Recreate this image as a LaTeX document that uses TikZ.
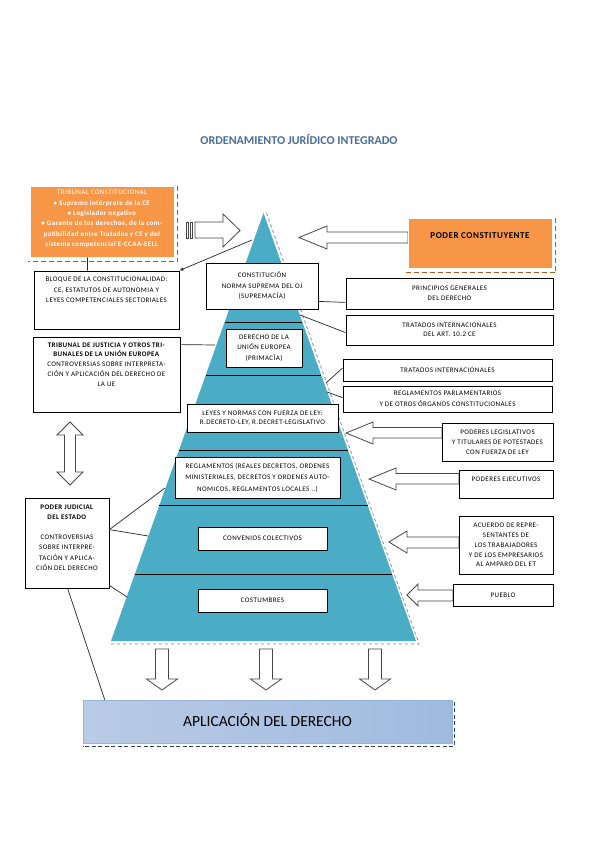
\documentclass[tikz,border=0pt]{standalone}
\usepackage{fontspec}
\setmainfont{Carlito}
\newfontfamily\boxfont[LetterSpace=6]{Carlito}
\usetikzlibrary{shadows,calc,arrows.meta}
\definecolor{pyr}{RGB}{75,172,198}
\definecolor{orng}{RGB}{247,150,70}
\definecolor{brn}{RGB}{178,90,30}
\definecolor{ttl}{RGB}{74,110,160}
\definecolor{arr}{RGB}{70,70,70}
\definecolor{dblue}{RGB}{40,60,110}
\definecolor{pdash}{RGB}{95,130,165}
\begin{document}
\begin{tikzpicture}[x=1pt,y=-1pt,
 box/.style={draw=black, line width=0.8pt, fill=white, inner sep=0pt, align=center,
   font=\boxfont\fontsize{7}{10.5}\selectfont,
   drop shadow={shadow xshift=1pt,shadow yshift=-1pt,opacity=0.35,fill=black}},
 txt/.style={inner sep=0pt, align=center, font=\boxfont\fontsize{7}{10.5}\selectfont},
 conn/.style={draw=black!85, line width=0.7pt},
 barrow/.style={draw=arr, fill=white, line width=0.8pt, line join=miter},
 pline/.style={draw=black, line width=0.9pt},
]
\useasboundingbox (0,0) rectangle (599,848);
\fill[white] (0,0) rectangle (599,848);

% title
\node[font=\bfseries\fontsize{12}{14}\selectfont, text=ttl] (title) at (299,140) {ORDENAMIENTO JURÍDICO INTEGRADO};

% pyramid
\coordinate (apex) at (263.5,213);
\coordinate (bl) at (111,641);
\coordinate (br) at (416,641);
\draw[white, line width=2pt, line join=round] (apex) -- (br) -- (bl) -- cycle;
\fill[pyr] (apex) -- (br) -- (bl) -- cycle;
\draw[pdash, dashed, line width=0.7pt] ($(apex)+(3,0)$) -- ($(br)+(3,3)$) -- ($(bl)+(0,3)$);
\foreach \t in {0.2547,0.3785,0.5537,0.6822,0.8435}
  \draw[pline] ($(apex)!\t!(bl)$) -- ($(apex)!\t!(br)$);

% block arrows
\draw[barrow] (186,222) rectangle (188,238);
\draw[barrow] (190,222) rectangle (192.5,238);
\draw[barrow] (195,222) -- (223,222) -- (223,214) -- (240,230.5) -- (223,247) -- (223,238) -- (195,238) -- cycle;
\draw[barrow] (299,237.5) -- (327,226) -- (327,232) -- (408,232) -- (408,243) -- (327,243) -- (327,249) -- cycle;
\draw[barrow] (346,433) -- (373,422) -- (373,427.5) -- (442,427.5) -- (442,438) -- (373,438) -- (373,444) -- cycle;
\draw[barrow] (369,479) -- (396,468) -- (396,473.5) -- (459,473.5) -- (459,484) -- (396,484) -- (396,490) -- cycle;
\draw[barrow] (389,542) -- (407,531) -- (407,537) -- (459,537) -- (459,548) -- (407,548) -- (407,553) -- cycle;
\draw[barrow] (407,595) -- (418,584) -- (418,590) -- (453,590) -- (453,601) -- (418,601) -- (418,606) -- cycle;
\foreach \cx in {162,266,375}
  \draw[barrow] (\cx-6.5,649) -- (\cx+6.5,649) -- (\cx+6.5,679) -- (\cx+15.5,679) -- (\cx,690) -- (\cx-15.5,679) -- (\cx-6.5,679) -- cycle;
\draw[barrow] (70,422) -- (83,435) -- (75.5,435) -- (75.5,472) -- (83,472) -- (70,485) -- (57,472) -- (64.5,472) -- (64.5,435) -- (57,435) -- cycle;

% pyramid boxes
\node[box, minimum width=112pt, minimum height=46pt] (const) at (262,286) {CONSTITUCIÓN\\NORMA SUPREMA DEL OJ\\(SUPREMACÍA)};
\node[box, minimum width=76pt, minimum height=38pt] (ue) at (264,348) {DERECHO DE LA\\UNIÓN EUROPEA\\(PRIMACÍA)};
\node[box, minimum width=151pt, minimum height=28pt, font=\boxfont\fontsize{7}{9.5}\selectfont] (leyes) at (262.5,418) {LEYES Y NORMAS CON FUERZA DE LEY:\\R.DECRETO-LEY, R.DECRET-LEGISLATIVO};
\node[box, minimum width=165pt, minimum height=41pt, font=\boxfont\fontsize{7}{11.5}\selectfont] (regl) at (257.5,477.5) {REGLAMENTOS (REALES DECRETOS, ORDENES\\MINISTERIALES, DECRETOS Y ORDENES AUTO-\\NOMICOS, REGLAMENTOS LOCALES ..)};
\node[box, minimum width=129pt, minimum height=23pt] (conv) at (262.5,538.5) {CONVENIOS COLECTIVOS};
\node[box, minimum width=129pt, minimum height=23pt] (cost) at (262.5,600.5) {COSTUMBRES};

% left boxes
\node[fill=orng, draw=white, line width=1pt, minimum width=144pt, minimum height=71pt, inner sep=0pt] (tc) at (102,221.5) {};
\draw[brn, dashed, dash pattern=on 5pt off 3pt, line width=1.5pt] ($(tc.north east)+(3,0)$) -- ($(tc.south east)+(3,4)$) -- ($(tc.south west)+(-2,4)$);
\node[txt, text=white, font=\boxfont\fontsize{7}{10.4}\selectfont] (tct) at (102,219) {TRIBUNAL CONSTITUCIONAL\\\textbf{• Supremo intérprete de la CE}\\\textbf{• Legislador negativo}\\\textbf{• Garante de los derechos, de la com-}\\\textbf{patibilidad entre Tratados y CE y del}\\\textbf{sistema competencial E-CCAA-EELL}};

\node[box, minimum width=145pt, minimum height=58pt] (bloque) at (106.5,300) {};
\node[txt] (bloquet) at (106.5,290) {BLOQUE DE LA CONSTITUCIONALIDAD:\\CE, ESTATUTOS DE AUTONOMIA Y\\LEYES COMPETENCIALES SECTORIALES};

\node[box, minimum width=147pt, minimum height=75pt] (tj) at (106.5,374.5) {};
\node[txt, font=\boxfont\fontsize{7}{9.8}\selectfont] (tjt) at (106.5,364.5) {\textbf{TRIBUNAL DE JUSTICIA Y OTROS TRI-}\\\textbf{BUNALES DE LA UNIÓN EUROPEA}\\CONTROVERSIAS SOBRE INTERPRETA-\\CIÓN Y APLICACIÓN DEL DERECHO DE\\LA UE};

\node[box, minimum width=84pt, minimum height=90pt] (pj) at (67,543) {};
\node[txt, font=\boxfont\fontsize{7}{10.2}\selectfont] (pjt) at (67,537.5) {\textbf{PODER JUDICIAL}\\\textbf{DEL ESTADO}\\[10.2pt]CONTROVERSIAS\\SOBRE INTERPRE-\\TACIÓN Y APLICA-\\CIÓN DEL DERECHO};

% right boxes
\node[fill=orng, draw=white, line width=1pt, minimum width=144pt, minimum height=50pt, inner sep=0pt] (pc) at (480,243) {};
\draw[brn, dashed, dash pattern=on 5pt off 3pt, line width=1.5pt] ($(pc.north east)+(3,0)$) -- ($(pc.south east)+(3,4)$) -- ($(pc.south west)+(-2,4)$);
\node[txt, font=\boxfont\bfseries\fontsize{9}{11}\selectfont] (pct) at (480,236) {PODER CONSTITUYENTE};

\node[box, minimum width=207pt, minimum height=31pt, font=\boxfont\fontsize{7}{9.5}\selectfont] (princ) at (449.5,293.5) {PRINCIPIOS GENERALES\\DEL DERECHO};
\node[box, minimum width=207pt, minimum height=30pt, font=\boxfont\fontsize{7}{9.5}\selectfont] (tiart) at (449.5,330) {TRATADOS INTERNACIONALES\\DEL ART. 10.2 CE};
\node[box, minimum width=209pt, minimum height=22pt] (ti) at (447.5,370) {TRATADOS INTERNACIONALES};
\node[box, minimum width=209pt, minimum height=26pt, font=\boxfont\fontsize{7}{11}\selectfont] (regp) at (447.5,399) {REGLAMENTOS PARLAMENTARIOS\\Y DE OTROS ÓRGANOS CONSTITUCIONALES};
\node[box, minimum width=111pt, minimum height=38pt, font=\boxfont\fontsize{7}{10}\selectfont] (pleg) at (497.5,442) {PODERES LEGISLATIVOS\\Y TITULARES DE POTESTADES\\CON FUERZA DE LEY};
\node[box, minimum width=94pt, minimum height=28pt] (pej) at (506,484) {};
\node[txt] (pejt) at (506,479) {PODERES EJECUTIVOS};
\node[box, minimum width=94pt, minimum height=58pt, font=\boxfont\fontsize{7}{9.8}\selectfont] (acu) at (506,545) {ACUERDO DE REPRE-\\SENTANTES DE\\LOS TRABAJADORES\\Y DE LOS EMPRESARIOS\\AL AMPARO DEL ET};
\node[box, minimum width=100pt, minimum height=22pt] (pue) at (503,595) {PUEBLO};

% aplicacion
\node[draw={rgb,255:red,150;green,180;blue,215}, line width=0.6pt, minimum width=369pt, minimum height=43pt, inner sep=0pt,
  left color={rgb,255:red,185;green,203;blue,229}, middle color={rgb,255:red,224;green,232;blue,244}, right color={rgb,255:red,160;green,186;blue,223},
  font=\fontsize{15.5}{18}\selectfont] (apl) at (267.5,721.5) {\raisebox{3pt}{APLICACIÓN DEL DERECHO}};
\draw[dblue, dashed, dash pattern=on 4pt off 2.5pt, line width=1.2pt] ($(apl.north east)+(2,2)$) -- ($(apl.south east)+(2,3)$) -- ($(apl.south west)+(0,3)$);

% edge coordinates on pyramid
\coordinate (pA) at (252,240);
\coordinate (pTJ) at (215,345);
\coordinate (pT) at (300,315);
\coordinate (pR1) at (326,383);
\coordinate (pR2) at (327,392);
\coordinate (pL1) at (165,488);
\coordinate (pL2) at (148,536);
\coordinate (pL3) at (127,597);

% connectors
\draw[conn] ($(tc.south west)+(58,0)$) -- ($(bloque.north west)+(54,0)$);
\draw[conn, -{Latex[length=4pt,width=3.5pt]}] (pA) -- (bloque.north east);
\draw[conn] ($(tj.north east)+(0,8)$) -- (pTJ);
\draw[conn] ($(const.south east)+(0,-8)$) -- ($(princ.south west)+(0,-7)$);
\draw[conn] (pT) -- ($(tiart.north west)+(0,18)$);
\draw[conn] (pR1) -- ($(ti.west)+(0,-2)$);
\draw[conn] (pR2) -- ($(regp.north west)+(0,12)$);
\draw[conn] ($(pj.north east)+(0,32)$) -- (pL1);
\draw[conn] ($(pj.north east)+(0,32)$) -- (pL2);
\draw[conn] ($(pj.south east)+(0,-3)$) -- (pL3);
\draw[conn] ($(pj.south west)+(43,0)$) -- ($(apl.north west)+(22,0)$);
\end{tikzpicture}
\end{document}
